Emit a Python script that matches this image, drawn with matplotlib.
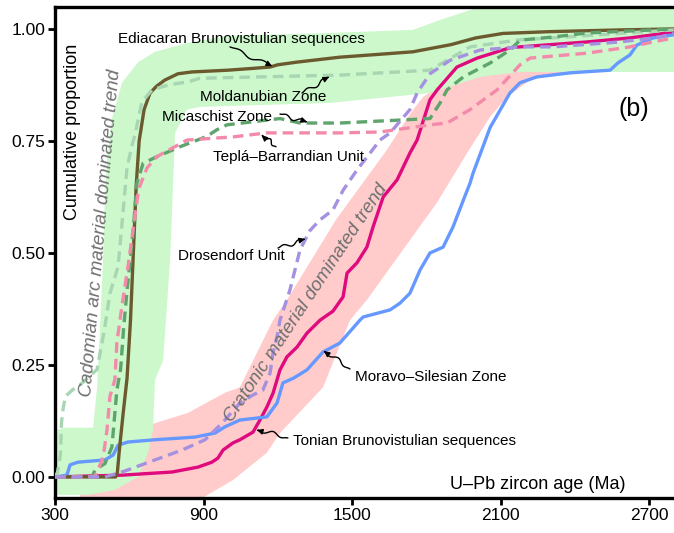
import numpy as np
import matplotlib
matplotlib.use("Agg")
import matplotlib.pyplot as plt
from matplotlib.patches import FancyArrowPatch, Polygon
from matplotlib.path import Path

plt.rcParams["font.family"] = ["Liberation Sans", "DejaVu Sans"]

# ---------------------------------------------------------
# Cumulative age curves (age in Ma, cumulative proportion)
# ---------------------------------------------------------
ediacaran_x = [300, 545, 552, 560, 575, 591, 605, 615, 628, 640, 660, 684, 710, 744, 797,
               853, 1000, 1100, 1169, 1200, 1278, 1451, 1600, 1746, 1900, 2000, 2110, 2300,
               2595, 2800]
ediacaran_y = [0, 0, 0.01, 0.06, 0.14, 0.22, 0.35, 0.48, 0.65, 0.75, 0.82, 0.857, 0.872, 0.886,
               0.90, 0.904, 0.908, 0.912, 0.915, 0.92, 0.926, 0.937, 0.943, 0.949, 0.965, 0.98,
               0.99, 0.994, 0.998, 1.0]

moldanubian_x = [300, 310, 322, 326, 332, 342, 372, 400, 430, 470, 500, 522, 555, 591, 611,
                 623, 651, 692, 757, 838, 886, 1451, 1815, 1900, 1977, 2179, 2312, 2800]
moldanubian_y = [0, 0.01, 0.05, 0.12, 0.15, 0.18, 0.195, 0.205, 0.22, 0.24, 0.33, 0.41, 0.47,
                 0.69, 0.74, 0.763, 0.837, 0.864, 0.875, 0.882, 0.89, 0.897, 0.908, 0.935, 0.96,
                 0.976, 0.98, 0.998]

micaschist_x = [300, 450, 462, 502, 530, 542, 550, 565, 577, 590, 615, 631, 656, 712, 805, 913,
                954, 995, 1209, 1290, 1451, 1815, 1855, 1884, 1950, 2058, 2138, 2179, 2312, 2450,
                2800]
micaschist_y = [0, 0, 0.016, 0.03, 0.067, 0.143, 0.194, 0.24, 0.33, 0.41, 0.545, 0.656, 0.70,
                0.715, 0.737, 0.76, 0.775, 0.786, 0.80, 0.79, 0.79, 0.80, 0.834, 0.864, 0.893,
                0.924, 0.953, 0.975, 0.982, 0.991, 1.0]

tepla_x = [300, 460, 474, 495, 510, 522, 542, 550, 570, 595, 615, 635, 643, 672, 712, 833, 1019,
           1156, 1451, 1613, 1815, 1884, 1977, 2086, 2179, 2220, 2450, 2623, 2716, 2800]
tepla_y = [0, 0, 0.016, 0.045, 0.105, 0.18, 0.217, 0.30, 0.38, 0.47, 0.55, 0.63, 0.65, 0.69,
           0.715, 0.752, 0.759, 0.768, 0.768, 0.77, 0.786, 0.79, 0.82, 0.864, 0.92, 0.935, 0.946,
           0.96, 0.971, 0.98]

drosendorf_x = [300, 502, 571, 704, 813, 906, 975, 1047, 1100, 1140, 1169, 1181, 1197, 1209, 1249,
                1290, 1330, 1371, 1423, 1464, 1520, 1573, 1613, 1654, 1734, 1763, 1815, 1896,
                2018, 2179, 2312, 2583, 2745, 2800]
drosendorf_y = [0, 0, 0.011, 0.038, 0.06, 0.083, 0.12, 0.165, 0.183, 0.194, 0.232, 0.277, 0.313,
                0.35, 0.417, 0.507, 0.55, 0.574, 0.596, 0.64, 0.685, 0.723, 0.752, 0.768, 0.82,
                0.857, 0.90, 0.93, 0.953, 0.96, 0.96, 0.971, 0.982, 0.99]

tonian_x = [300, 571, 773, 878, 934, 958, 979, 1019, 1047, 1100, 1128, 1156, 1181, 1209, 1237,
            1278, 1318, 1371, 1423, 1464, 1480, 1520, 1560, 1585, 1626, 1682, 1734, 1763, 1815,
            1844, 1924, 2006, 2138, 2179, 2450, 2623, 2800]
tonian_y = [0, 0.004, 0.011, 0.022, 0.033, 0.042, 0.06, 0.076, 0.083, 0.10, 0.127, 0.156, 0.187,
            0.239, 0.268, 0.29, 0.321, 0.35, 0.37, 0.402, 0.455, 0.478, 0.513, 0.558, 0.625,
            0.663, 0.723, 0.752, 0.842, 0.864, 0.915, 0.935, 0.958, 0.96, 0.971, 0.98, 0.993]

moravo_x = [300, 348, 361, 393, 502, 535, 555, 595, 704, 866, 947, 987, 1047, 1156, 1197, 1221,
            1262, 1318, 1383, 1451, 1532, 1545, 1654, 1694, 1734, 1775, 1815, 1868, 1908, 1950,
            1977, 1989, 2058, 2138, 2179, 2247, 2381, 2543, 2574, 2623, 2651, 2716, 2800]
moravo_y = [0, 0.004, 0.027, 0.033, 0.038, 0.049, 0.071, 0.078, 0.083, 0.089, 0.098, 0.112,
            0.127, 0.134, 0.165, 0.21, 0.22, 0.239, 0.279, 0.299, 0.35, 0.357, 0.373, 0.388,
            0.41, 0.462, 0.50, 0.513, 0.558, 0.618, 0.656, 0.678, 0.78, 0.857, 0.88, 0.893,
            0.902, 0.908, 0.924, 0.942, 0.964, 0.98, 0.987]

# Trend bands (outline of the shaded envelopes)
cadomian_band_x = [308, 308, 340, 454, 470, 482, 494, 500, 510, 530, 571, 636, 704, 837, 1000,
                   1411, 1746, 1856, 1977, 2086, 2820, 2820, 2179, 2018, 1815, 1411, 886, 833,
                   785, 765, 737, 704, 696, 676, 636, 542, 433]
cadomian_band_y = [-0.04, 0.105, 0.11, 0.11, 0.2, 0.335, 0.484, 0.6, 0.7, 0.8, 0.88, 0.926,
                   0.949, 0.969, 0.985, 0.991, 0.998, 1.02, 1.042, 1.06, 1.06, 0.904, 0.904,
                   0.893, 0.857, 0.835, 0.826, 0.82, 0.768, 0.484, 0.26, 0.217, 0.105, 0.054,
                   0.0, -0.029, -0.04]

cratonic_band_x = [400, 886, 1019, 1156, 1209, 1383, 1492, 1560, 1706, 1843, 1965, 2058, 2126,
                   2220, 2353, 2400, 2000, 1884, 1787, 1734, 1641, 1435, 1237, 1181, 1047, 987,
                   837, 704, 600, 400]
cratonic_band_y = [-0.05, -0.05, -0.007, 0.054, 0.098, 0.20, 0.35, 0.395, 0.507, 0.612, 0.723,
                   0.804, 0.848, 0.886, 0.902, 0.95, 0.95, 0.886, 0.848, 0.81, 0.73, 0.574,
                   0.395, 0.35, 0.20, 0.188, 0.143, 0.12, 0.10, 0.0]

x_ticks = [300, 900, 1500, 2100, 2700]
y_ticks = [0.0, 0.25, 0.50, 0.75, 1.00]

DASH = (0, (3.2, 1.8))


def squiggle(ax, start, end, amp=2.5, waves=1.5):
    # wavy leader line with an arrow head, built in pixel space
    trans = ax.transData
    p0 = trans.transform(start)
    p1 = trans.transform(end)
    d = p1 - p0
    n = np.array([-d[1], d[0]]) / np.hypot(*d)
    t = np.linspace(0, 1, 40)
    off = amp * np.sin(2 * np.pi * waves * t) * np.sin(np.pi * t)
    pts = p0 + np.outer(t, d) + np.outer(off, n)
    pts = trans.inverted().transform(pts)
    ax.add_patch(FancyArrowPatch(path=Path(pts), arrowstyle="-|>", mutation_scale=8,
                                 lw=1.0, color="black", zorder=6))


fig = plt.figure(figsize=(6.74, 5.33), dpi=100)
ax = fig.add_axes([55 / 674, 35 / 533, 619 / 674, 491 / 533])
ax.set_xlim(300, 2801)
ax.set_ylim(-0.047, 1.049)

ax.add_patch(Polygon(np.column_stack([cratonic_band_x, cratonic_band_y]),
                     closed=True, fc="#ffcbcb", ec="none", zorder=1))
ax.add_patch(Polygon(np.column_stack([cadomian_band_x, cadomian_band_y]),
                     closed=True, fc="#ccf8cc", ec="none", zorder=1.1))

lw = 2.4
ax.plot(tonian_x, tonian_y, color="#df0a7d", lw=lw, zorder=3)
ax.plot(moravo_x, moravo_y, color="#6699ff", lw=lw, zorder=3)
ax.plot(ediacaran_x, ediacaran_y, color="#6b5a2e", lw=lw, zorder=3)
ax.plot(moldanubian_x, moldanubian_y, color="#a8d6b2", lw=lw, ls=DASH, zorder=3)
ax.plot(micaschist_x, micaschist_y, color="#5ea46c", lw=lw, ls=DASH, zorder=3)
ax.plot(tepla_x, tepla_y, color="#f48aaa", lw=lw, ls=DASH, zorder=3)
ax.plot(drosendorf_x, drosendorf_y, color="#a591e0", lw=lw, ls=DASH, zorder=3)

# trend labels
ax.text(484, 0.545, "Cadomian arc material dominated trend", rotation=85,
        fontsize=13.5, style="italic", color="#707070", ha="center", va="center", zorder=4)
ax.text(1314, 0.388, "Cratonic material dominated trend", rotation=56.5,
        fontsize=13.5, style="italic", color="#707070", ha="center", va="center", zorder=4)

# curve labels
fs = 11
labels = [
    ("Ediacaran Brunovistulian sequences", 1052, 0.978, (1007, 0.960), (1177, 0.917)),
    ("Moldanubian Zone", 1140, 0.848, (1298, 0.857), (1407, 0.893)),
    ("Micaschist Zone", 955, 0.804, (1209, 0.810), (1318, 0.792)),
    ("Teplá–Barrandian Unit", 1245, 0.714, (1193, 0.737), (1136, 0.763)),
    ("Drosendorf Unit", 1011, 0.493, (1201, 0.511), (1310, 0.531)),
    ("Moravo–Silesian Zone", 1819, 0.223, (1492, 0.241), (1387, 0.281)),
    ("Tonian Brunovistulian sequences", 1714, 0.080, (1241, 0.087), (1116, 0.105)),
]
for text, tx, ty, start, end in labels:
    ax.text(tx, ty, text, fontsize=fs, ha="center", va="center", zorder=5)
    squiggle(ax, start, end)

ax.text(2639, 0.821, "(b)", fontsize=18, ha="center", va="center")
ax.text(369, 0.77, "Cumulative proportion", rotation=90, fontsize=13,
        ha="center", va="center")
ax.text(2251, -0.028, "U–Pb zircon age (Ma)", fontsize=13, ha="center", va="baseline")

ax.set_xticks(x_ticks)
ax.set_yticks(y_ticks)
ax.set_yticklabels([f"{v:.2f}" for v in y_ticks])
ax.tick_params(direction="out", length=5, width=2, labelsize=12.5, pad=2)
for side in ["left", "bottom", "top"]:
    ax.spines[side].set_linewidth(2.4)
ax.spines["right"].set_visible(False)

fig.savefig("out.png", dpi=100)
